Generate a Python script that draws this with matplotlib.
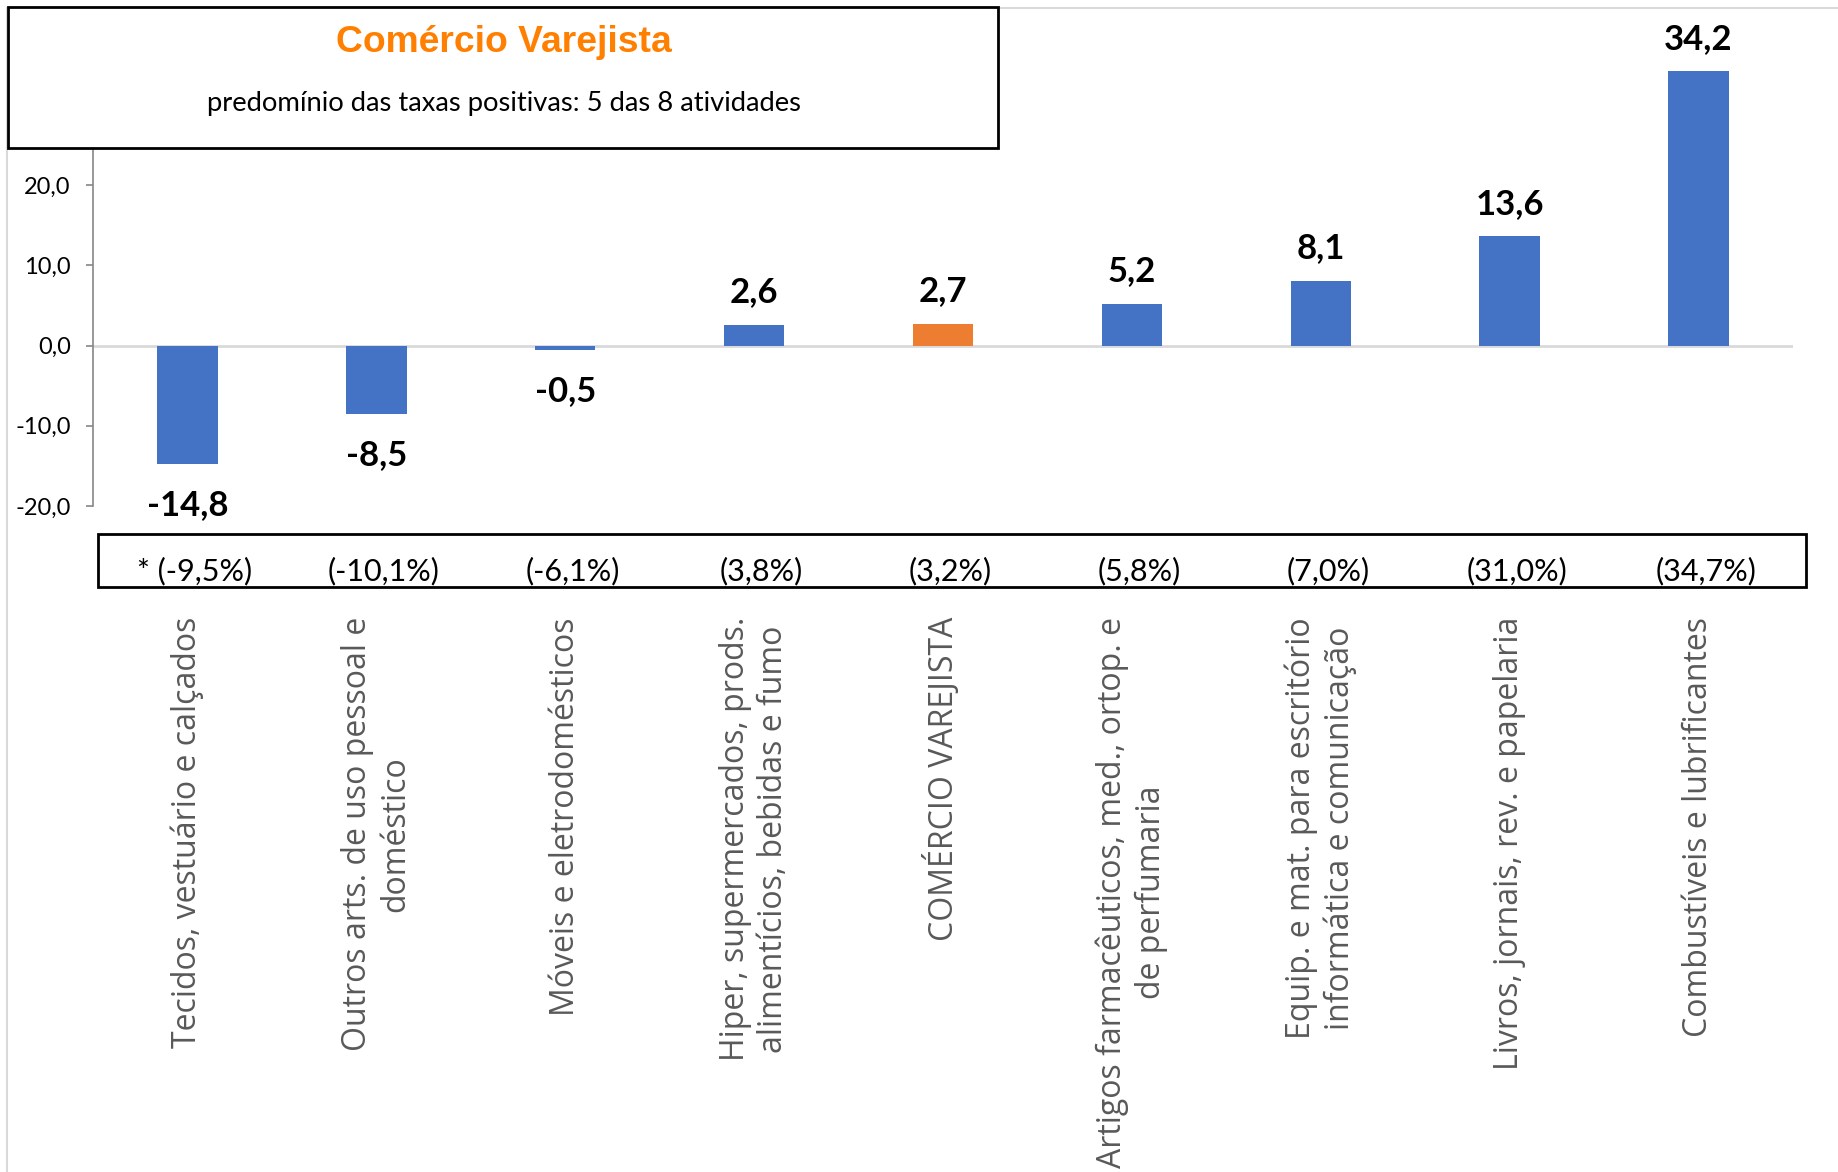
import matplotlib.pyplot as plt
from matplotlib.patches import Rectangle
from matplotlib.transforms import blended_transform_factory

# Data
categories = [
    'Tecidos, vestuário e calçados',
    'Outros arts. de uso pessoal e\ndoméstico',
    'Móveis e eletrodomésticos',
    'Hiper, supermercados, prods.\nalimentícios, bebidas e fumo',
    'COMÉRCIO VAREJISTA',
    'Artigos farmacêuticos, med., ortop. e\nde perfumaria',
    'Equip. e mat. para escritório\ninformática e comunicação',
    'Livros, jornais, rev. e papelaria',
    'Combustíveis e lubrificantes',
]
values = [-14.8, -8.5, -0.5, 2.6, 2.7, 5.2, 8.1, 13.6, 34.2]
pct_labels = ['* (-9,5%)', '(-10,1%)', '(-6,1%)', '(3,8%)', '(3,2%)',
              '(5,8%)', '(7,0%)', '(31,0%)', '(34,7%)']
highlight = 'COMÉRCIO VAREJISTA'
yticks = [-20, -10, 0, 10, 20]

W, H = 1838, 1172
blue = '#4472C4'
orange = '#ED7D31'

fig = plt.figure(figsize=(W / 100, H / 100), dpi=100)
ax = fig.add_axes([93 / W, 1 - 506 / H, 1700 / W, (506 - 24.7) / H])

x = list(range(len(categories)))
colors = [orange if c == highlight else blue for c in categories]
ax.bar(x, values, width=0.32, color=colors, zorder=2)
ax.axhline(0, color='#D9D9D9', lw=2, zorder=1)

ax.set_xlim(-0.5, len(categories) - 0.5)
ax.set_ylim(-20, 40)

# y axis
ax.set_yticks(yticks)
ax.set_yticklabels([f'{v:.1f}'.replace('.', ',') for v in yticks],
                   fontfamily='Lato', fontsize=17)
ax.tick_params(axis='y', length=5, width=1.2, color='#868686', pad=11)
for s in ['top', 'right', 'bottom']:
    ax.spines[s].set_visible(False)
ax.spines['left'].set_color('#868686')
ax.spines['left'].set_linewidth(1.2)

# category labels
ax.set_xticks(x)
ax.set_xticklabels(categories, rotation=90, ha='center', va='top',
                   multialignment='center', fontfamily=['Open Sans', 'Noto Sans'],
                   fontsize=23, color='#595959')
ax.tick_params(axis='x', length=0, pad=80)

# value labels
for xi, v in zip(x, values):
    ax.annotate(f'{v:.1f}'.replace('.', ','), (xi, v),
                xytext=(0, 23.5 if v > 0 else -29.5), textcoords='offset points',
                ha='center', va='center', fontfamily='Lato',
                fontweight='bold', fontsize=25)

# percent labels inside the lower box
trans = blended_transform_factory(ax.transData, ax.transAxes)
for xi, p in zip(x, pct_labels):
    ax.text(xi + 0.04, -0.135, p, transform=trans, ha='center', va='center',
            fontfamily='Lato', fontsize=22, clip_on=False)

# light outer frame
fig.add_artist(Rectangle((7 / W, -0.01), 1.0, 1 - 8 / H + 0.01,
                         transform=fig.transFigure, fill=False,
                         edgecolor='#D9D9D9', lw=1.5, zorder=0))

# lower box
fig.add_artist(Rectangle((98 / W, 1 - 587 / H), (1806 - 98) / W, 53 / H,
                         transform=fig.transFigure, fill=False,
                         edgecolor='black', lw=2, zorder=5))

# title box
fig.add_artist(Rectangle((8 / W, 1 - 148 / H), 990 / W, 141 / H,
                         transform=fig.transFigure, facecolor='white',
                         edgecolor='black', lw=2, zorder=5))
fig.text(504 / W, 1 - 42 / H, 'Comércio Varejista', ha='center', va='center',
         fontfamily='Liberation Sans', fontweight='bold', fontsize=26.8,
         color='#FF7F00', zorder=6)
fig.text(504 / W, 1 - 103 / H, 'predomínio das taxas positivas: 5 das 8 atividades',
         ha='center', va='center', fontfamily='Lato', fontsize=19.7,
         color='black', zorder=6)

fig.savefig('out.png', dpi=100)
